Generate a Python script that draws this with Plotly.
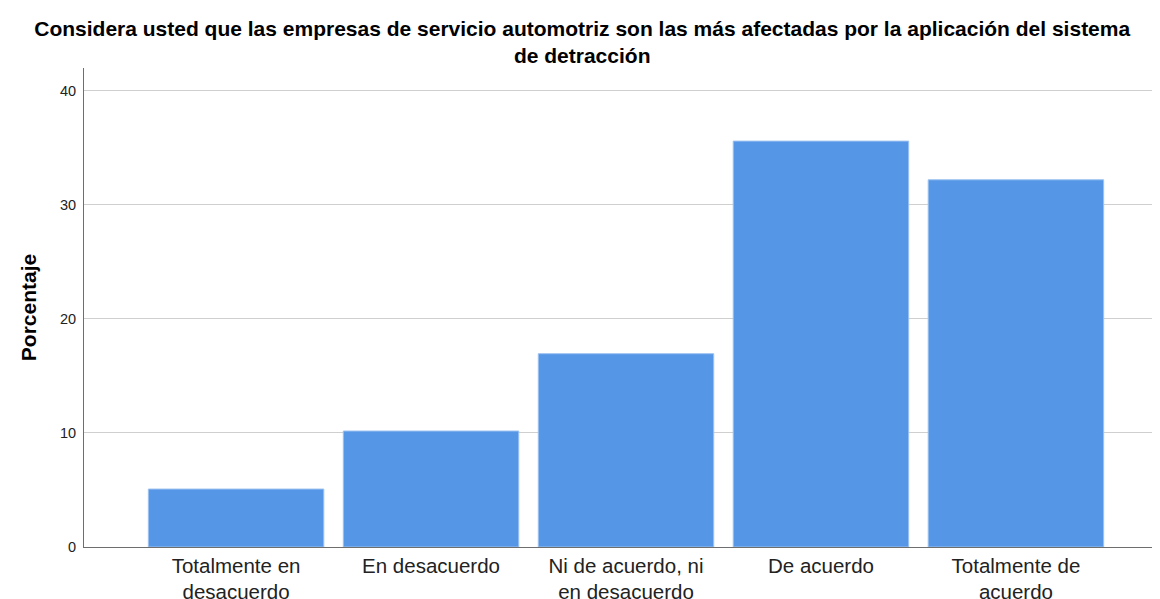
import plotly.graph_objects as go

# Percent of respondents per answer (n = 59)
categories = [
    "Totalmente en<br>desacuerdo",
    "En desacuerdo",
    "Ni de acuerdo, ni<br>en desacuerdo",
    "De acuerdo",
    "Totalmente de<br>acuerdo",
]
porcentaje = [5.08, 10.17, 16.95, 35.59, 32.20]

title_text = ("Considera usted que las empresas de servicio automotriz son las más afectadas "
              "por la aplicación del sistema<br>de detracción")

fig = go.Figure()
fig.add_trace(
    go.Bar(
        x=categories,
        y=porcentaje,
        marker=dict(color="#5596E6", line=dict(color="#9cc2f0", width=1)),
        hoverinfo="x+y",
    )
)

# page has an 8px body margin, so margins are offset accordingly
fig.update_layout(
    width=1160,
    height=599,
    paper_bgcolor="white",
    plot_bgcolor="white",
    margin=dict(l=76, r=0, t=60, b=60),
    bargap=0.1,
    showlegend=False,
    font=dict(family="Liberation Sans, Arial, sans-serif", color="#000000"),
    title=dict(
        text="<b>" + title_text + "</b>",
        x=0.495,
        xanchor="center",
        y=0.953,
        yanchor="middle",
        font=dict(size=21, color="#000000"),
    ),
)
fig.update_xaxes(
    range=[-0.78, 4.78],
    showgrid=False,
    showline=True,
    linecolor="#6e6e6e",
    linewidth=1,
    ticks="",
    tickfont=dict(size=20.5, color="#222222"),
)
fig.update_yaxes(
    range=[0, 42],
    tickvals=[0, 10, 20, 30, 40],
    showgrid=True,
    gridcolor="#cfcfcf",
    gridwidth=1,
    zeroline=False,
    showline=True,
    linecolor="#6e6e6e",
    linewidth=1,
    ticks="",
    ticklabelstandoff=4,
    tickfont=dict(size=14.5, color="#222222"),
    title=dict(text="<b>Porcentaje</b>", font=dict(size=21, color="#000000"), standoff=17),
)

fig.write_html("out.html")
